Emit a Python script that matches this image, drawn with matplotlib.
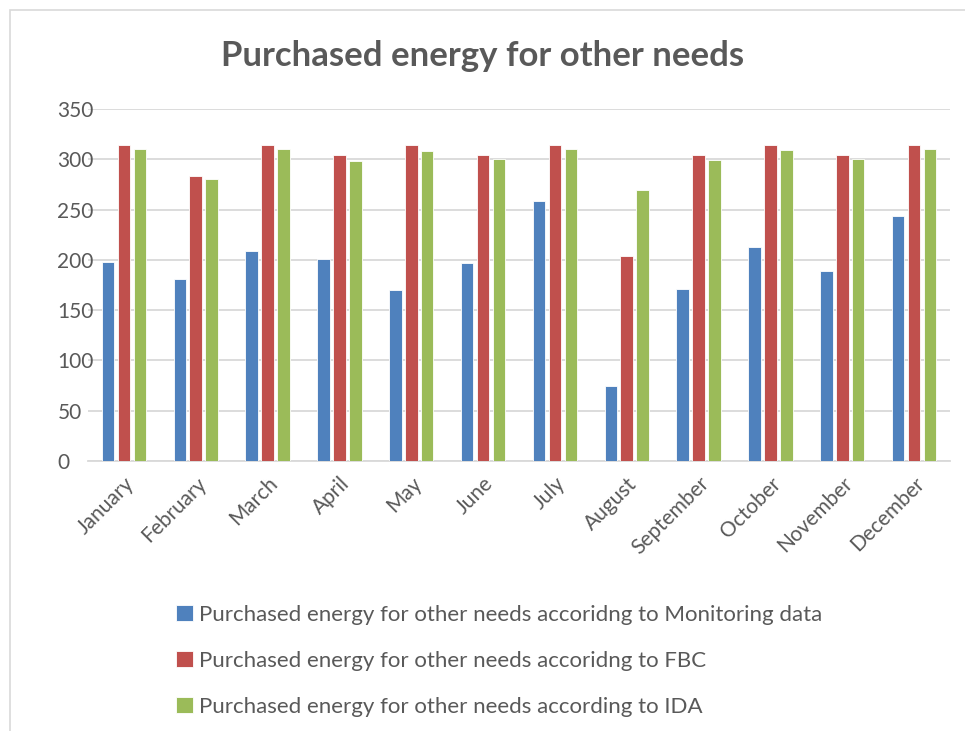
import matplotlib
matplotlib.use("Agg")
from matplotlib import pyplot as plt
from matplotlib.patches import Rectangle
import numpy as np

months = ["January", "February", "March", "April", "May", "June", "July",
          "August", "September", "October", "November", "December"]
monitoring = [198, 181, 209, 201, 170, 197, 259, 75, 171, 213, 189, 244]
fbc = [314, 283, 314, 304, 314, 304, 314, 204, 304, 314, 304, 314]
ida = [310, 280, 310, 298, 308, 300, 310, 269, 299, 309, 300, 310]

series_names = [
    "Purchased energy for other needs accoridng to Monitoring data",
    "Purchased energy for other needs accoridng to FBC",
    "Purchased energy for other needs according to IDA",
]
colors = ["#4F81BD", "#C0504D", "#9BBB59"]
text_color = "#595959"

plt.rcParams["font.family"] = ["Lato", "DejaVu Sans"]

fig = plt.figure(figsize=(9.65, 7.31), dpi=100)
ax = fig.add_axes([88 / 965, 1 - 461 / 731, (950 - 88) / 965, (461 - 109) / 731])

# chart border like the office chart frame
fig.patches.append(Rectangle((10 / 965, -0.1), 1.0, 1.1 - 10 / 731, transform=fig.transFigure,
                             fill=False, edgecolor="#D9D9D9", linewidth=1.2))

x = np.arange(len(months))
width = 0.175
step = 0.222
for i, (vals, c, name) in enumerate(zip([monitoring, fbc, ida], colors, series_names)):
    ax.bar(x + (i - 1) * step, vals, width, color=c, edgecolor="white", linewidth=0.6,
           label=name, zorder=3)

ax.set_xlim(-0.5, len(months) - 0.5)
ax.set_ylim(0, 350)
ax.set_yticks(range(0, 351, 50))
ax.yaxis.grid(True, color="#D9D9D9", linewidth=1.3, zorder=0)
ax.set_axisbelow(True)
for s in ["top", "right", "left"]:
    ax.spines[s].set_visible(False)
ax.spines["bottom"].set_color("#D9D9D9")
ax.spines["bottom"].set_linewidth(1.3)
ax.tick_params(axis="both", length=0, labelsize=15, colors=text_color, pad=9)
ax.tick_params(axis="y", pad=22)
ax.set_xticks(x)
ax.set_xticklabels(months, rotation=45, ha="right", rotation_mode="anchor")
for lbl in ax.get_yticklabels():
    lbl.set_horizontalalignment("left")

fig.text(0.5, 1 - 56 / 731, "Purchased energy for other needs", ha="center", va="center",
         fontsize=25, fontweight="bold", color=text_color)

handles, labels = ax.get_legend_handles_labels()
fig.legend(handles, labels, loc="upper left", bbox_to_anchor=(156 / 965, 1 - 585 / 731),
           frameon=False, fontsize=16, labelcolor=text_color, handlelength=0.75,
           handleheight=0.75, handletextpad=0.3, labelspacing=1.16)

plt.savefig("out.png", dpi=100)
